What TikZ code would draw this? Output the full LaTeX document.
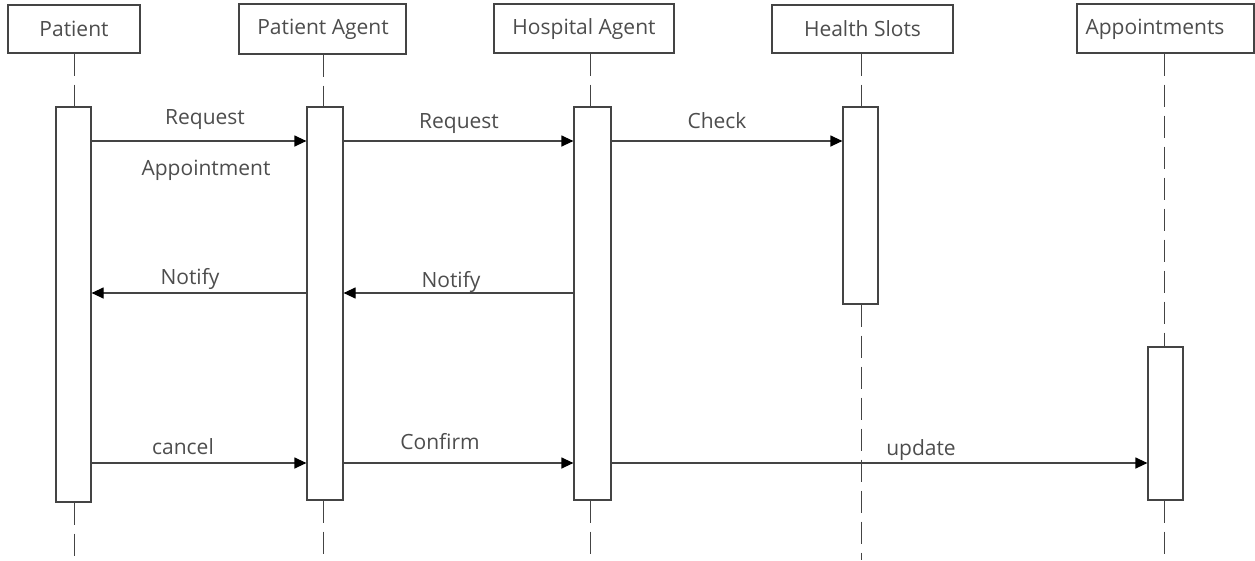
\documentclass[tikz,border=0pt]{standalone}
\usepackage{fontspec}
\setmainfont{Open Sans}
\usetikzlibrary{arrows.meta}
\definecolor{inkline}{HTML}{444444}
\definecolor{inktext}{HTML}{4D4D4D}
\tikzset{
  headbox/.style={draw=inkline, line width=1.2pt, rectangle, inner sep=0pt, fill=white},
  headtext/.style={text=inktext, font=\fontsize{21}{24}\selectfont, inner sep=0pt},
  actbox/.style={draw=inkline, line width=1.2pt, rectangle, fill=white, inner sep=0pt, minimum width=35pt},
  lifeline/.style={draw=inkline, line width=1pt, dash pattern=on 22pt off 9pt},
  msg/.style={draw=inkline, line width=1.2pt, -{Triangle[length=12pt,width=11pt,color=black]}},
  msglabel/.style={text=inktext, font=\fontsize{21}{24}\selectfont, inner sep=0pt, anchor=base},
}
\begin{document}
\begin{tikzpicture}[x=1pt,y=-1pt]
\useasboundingbox (0,0) rectangle (1255,560);

% participants
\node[headbox, minimum width=132pt, minimum height=48pt] (patient) at (74,29) {};
\node[headtext] (patientlbl) at (74,29) {Patient};
\node[headbox, minimum width=167pt, minimum height=50pt] (pagent) at (322.5,29) {};
\node[headtext] (pagentlbl) at (323,29) {Patient Agent};
\node[headbox, minimum width=180pt, minimum height=49pt] (hagent) at (584,28.5) {};
\node[headtext] (hagentlbl) at (584,29) {Hospital Agent};
\node[headbox, minimum width=181pt, minimum height=48pt] (slots) at (862.5,29) {};
\node[headtext] (slotslbl) at (862.5,29) {Health Slots};
\node[headbox, minimum width=177pt, minimum height=49pt] (appts) at (1165.5,28.5) {};
\node[headtext] (apptslbl) at (1155,29) {Appointments};

% bottom ends of the lifelines
\coordinate (pend) at (74,560);
\coordinate (paend) at (323,560);
\coordinate (hend) at (590,560);
\coordinate (send) at (861,560);
\coordinate (aend) at (1164,560);

% activation bars
\node[actbox, minimum height=395pt] (pact) at (73.5,304.5) {};
\node[actbox, minimum width=36pt, minimum height=393pt] (paact) at (325,303.5) {};
\node[actbox, minimum width=37pt, minimum height=393pt] (hact) at (592.5,303.5) {};
\node[actbox, minimum height=197pt] (sact) at (860.5,205.5) {};
\node[actbox, minimum height=153pt] (aact) at (1165.5,423.5) {};

% lifelines
\draw[lifeline] (patient.south -| 74,0) -- (pact.north -| 74,0);
\draw[lifeline] (pact.south -| 74,0) -- (pend);
\draw[lifeline] (pagent.south -| 323,0) -- (paact.north -| 323,0);
\draw[lifeline] (paact.south -| 323,0) -- (paend);
\draw[lifeline] (hagent.south -| 590,0) -- (hact.north -| 590,0);
\draw[lifeline] (hact.south -| 590,0) -- (hend);
\draw[lifeline] (slots.south -| 861,0) -- (sact.north -| 861,0);
\draw[lifeline] (sact.south -| 861,0) -- (send);
\draw[lifeline] (appts.south -| 1164,0) -- (aact.north -| 1164,0);
\draw[lifeline] (aact.south -| 1164,0) -- (aend);

% message levels
\coordinate (y1) at (0,141);
\coordinate (y2) at (0,293);
\coordinate (y3) at (0,463);

% messages
\draw[msg] (pact.east |- y1) -- (paact.west |- y1);
\draw[msg] (paact.east |- y1) -- (hact.west |- y1);
\draw[msg] (hact.east |- y1) -- (sact.west |- y1);
\draw[msg] (paact.west |- y2) -- (pact.east |- y2);
\draw[msg] (hact.west |- y2) -- (paact.east |- y2);
\draw[msg] (pact.east |- y3) -- (paact.west |- y3);
\draw[msg] (paact.east |- y3) -- (hact.west |- y3);
\draw[msg] (hact.east |- y3) -- (aact.west |- y3);

% message labels
\node[msglabel] (l1a) at (205,124) {Request};
\node[msglabel] (l1b) at (206,175) {Appointment};
\node[msglabel] (l2) at (459,128) {Request};
\node[msglabel] (l3) at (717,128) {Check};
\node[msglabel] (l4) at (190,284) {Notify};
\node[msglabel] (l5) at (451,287) {Notify};
\node[msglabel] (l6) at (183,454) {cancel};
\node[msglabel] (l7) at (440,449) {Confirm};
\node[msglabel] (l8) at (921,455) {update};
\end{tikzpicture}
\end{document}
